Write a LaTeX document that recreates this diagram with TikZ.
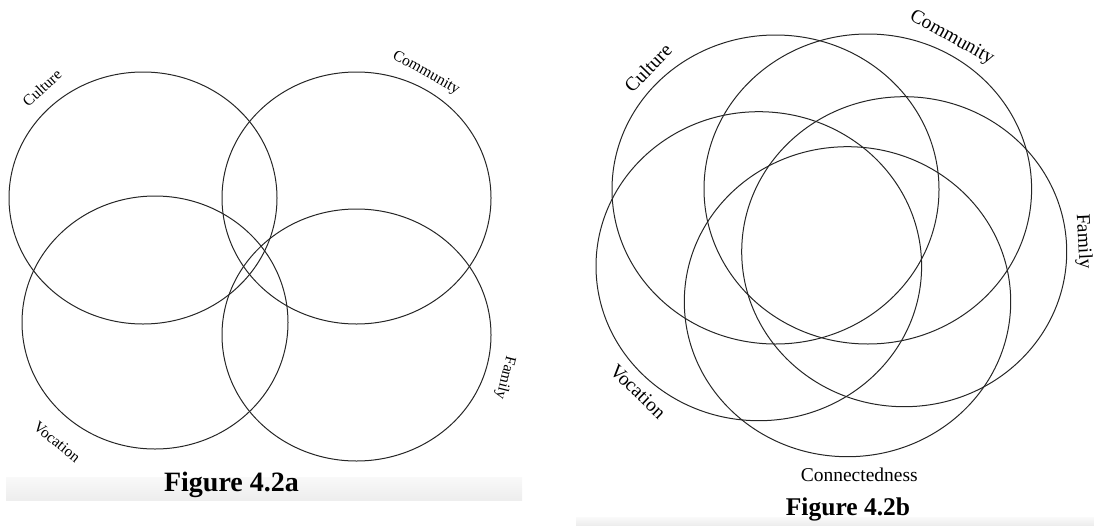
\documentclass[tikz,border=0pt]{standalone}
\usepackage{fontspec}
\setmainfont{Liberation Serif}
\begin{document}
\begin{tikzpicture}[x=1pt,y=-1pt,
  ring/.style={draw=black!85,line width=1pt},
  lblA/.style={inner sep=0pt,font=\fontsize{15.5}{18}\selectfont},
  lblB/.style={inner sep=0pt,font=\fontsize{19.5}{23}\selectfont},
  title/.style={inner sep=0pt,anchor=base,font=\bfseries\fontsize{#1}{#1}\selectfont},
  band/.style={top color=white!97.5!black,bottom color=white!93!black,draw=none}]
\useasboundingbox (0,0) rectangle (1094,525);
% --- Figure 4.2a ---
\draw[ring] (143,198) ellipse [x radius=134, y radius=126];
\draw[ring] (356.5,198) ellipse [x radius=134.5, y radius=126];
\draw[ring] (155,322.5) ellipse [x radius=133, y radius=126.5];
\draw[ring] (356.5,335) ellipse [x radius=134.5, y radius=126];
\node[lblA,rotate=42.6] (cultA) at (42,88) {Culture};
\node[lblA,rotate=-29] (commA) at (426,73) {Community};
\node[lblA,rotate=-104] (famA) at (505,378) {Family};
\node[lblA,rotate=-39] (vocA) at (57,442) {Vocation};
\shade[band] (6,477.7) rectangle (522,500.7);
\node[title=28] (figA) at (231.5,491.7) {Figure 4.2a};
% --- Figure 4.2b ---
\draw[ring] (775.5,189.5) ellipse [x radius=163.5, y radius=154.5];
\draw[ring] (867.8,189) ellipse [x radius=163.8, y radius=155];
\draw[ring] (904.2,251.7) ellipse [x radius=162.5, y radius=155];
\draw[ring] (758.8,266.2) ellipse [x radius=162.8, y radius=154.5];
\draw[ring] (847.5,301.7) ellipse [x radius=163.2, y radius=155];
\node[lblB,rotate=46] (cultB) at (648,68) {Culture};
\node[lblB,rotate=-29] (commB) at (951.7,38.3) {Community};
\node[lblB,rotate=-87] (famB) at (1083,241.5) {Family};
\node[lblB,rotate=-44] (vocB) at (638,391.5) {Vocation};
\node[lblB] (connB) at (859.3,475) {Connectedness};
\shade[band] (576,517.7) rectangle (1094,525);
\node[title=25.5] (figB) at (848,515) {Figure 4.2b};
\end{tikzpicture}
\end{document}
